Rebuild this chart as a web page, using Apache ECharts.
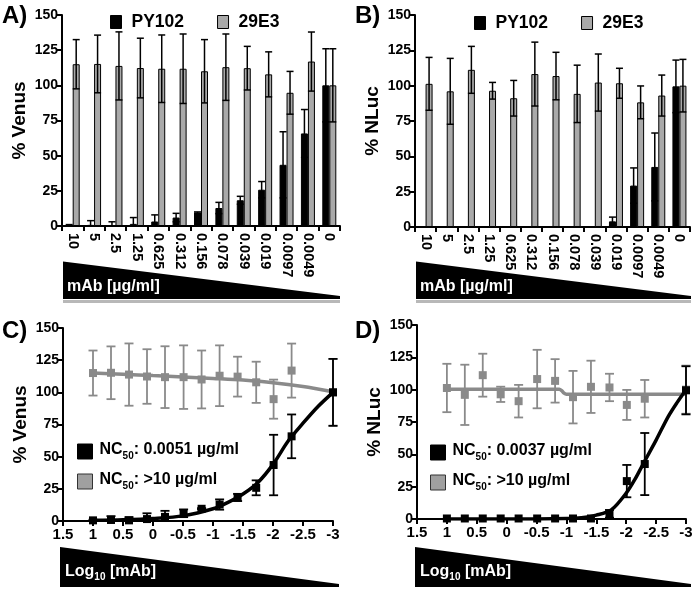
<!DOCTYPE html>
<html><head><meta charset="utf-8">
<script src="https://cdn.jsdelivr.net/npm/echarts@6/dist/echarts.min.js"></script>
<style>html,body{margin:0;padding:0;background:#fff}#c{width:696px;height:592px}</style>
</head><body><div id="c"></div>
<script>
// ---- data ----
const categories = ['10','5','2.5','1.25','0.625','0.312','0.156','0.078','0.039','0.019','0.0097','0.0049','0'];
const logConc = [1, 0.7, 0.4, 0.1, -0.2, -0.51, -0.81, -1.11, -1.41, -1.72, -2.01, -2.31, -3];

const venusPY102    = [0.5, 0.8, 0.5, 1.5, 3.2, 6, 9.5, 12.8, 18.3, 25.8, 43.5, 65.8, 100];
const venusPY102Err = [0.5, 3, 2.5, 4.5, 4.7, 3, 0.5, 4, 2.8, 5.8, 23.5, 17, 26];
const venus29E3     = [115, 115.2, 113.8, 112.3, 111.8, 111.8, 110, 112.9, 112.2, 107.8, 94.7, 116.9, 100];
const venus29E3Err  = [17.5, 20.5, 24.2, 21.2, 24, 24.7, 22.5, 23.6, 15.5, 16, 15.2, 21, 26];

const nlucPY102     = [0.4, 0.4, 0.4, 0.4, 0.4, 0.4, 0.4, 0.4, 0.4, 4, 29.3, 42.5, 99.5];
const nlucPY102Err  = [0, 0, 0, 0, 0, 0, 0, 0, 0, 3, 12.5, 24, 18.6];
const nluc29E3      = [101.3, 96, 111.2, 96.4, 91.1, 108.2, 106.8, 94.2, 102.2, 101.7, 88.2, 93, 100];
const nluc29E3Err   = [18.7, 23.3, 16.6, 5.9, 12.6, 22.6, 16.8, 20.3, 20.2, 10.6, 11.6, 14.5, 18.6];

// fitted curves
const venusFitPY102X = [1, 0.5, 0, -0.5, -1, -1.25, -1.5, -1.75, -2, -2.25, -2.5, -2.75, -3];
const venusFitPY102Y = [0.5, 1, 2, 4, 9.5, 14.5, 21, 30, 44, 62, 76, 89, 100];
const venusFit29E3X  = [1, 0.5, 0, -0.5, -1, -1.5, -2, -2.5, -3];
const venusFit29E3Y  = [115, 114, 113, 112, 110.8, 109.5, 107.5, 104.5, 100.5];
const nlucFitPY102X  = [1, 0, -0.5, -1, -1.25, -1.5, -1.75, -2, -2.15, -2.3, -2.5, -2.7, -2.85, -3];
const nlucFitPY102Y  = [0, 0, 0, 0.3, 1, 3, 7, 20, 31, 44, 61, 79, 90, 100];
const nlucFit29E3X   = [1, -0.88, -0.92, -0.96, -1.0, -3];
const nlucFit29E3Y   = [100.3, 100.3, 99.3, 97.3, 96.5, 96.5];

const yTicks = {min: 0, max: 150, interval: 25};
const xLogTicks = {min: -3, max: 1.5, interval: 0.5};

// ---- styling ----
const FONT = 'Liberation Sans, Arial, Helvetica, sans-serif';
const GRAY_BAR = '#a9a9a9';
const GRAY_PT = '#8a8a8a';

const chart = echarts.init(document.getElementById('c'));

function zip(xs, ys) { return xs.map((x, i) => [x, ys[i]]); }
function errData(xs, v, e) { return xs.map((x, i) => [x, v[i], e[i]]); }

function errRender(color, cap, lw, offset) {
  return function (params, api) {
    const x = api.value(0), y = api.value(1), e = api.value(2);
    if (!e) return null;
    const lo = Math.max(0, y - e), hi = y + e;
    const pHi = api.coord([x, hi]), pLo = api.coord([x, lo]);
    const cx = pHi[0] + offset;
    const st = {stroke: color, lineWidth: lw};
    const ch = [
      {type: 'line', shape: {x1: cx, y1: pLo[1], x2: cx, y2: pHi[1]}, style: st},
      {type: 'line', shape: {x1: cx - cap / 2, y1: pHi[1], x2: cx + cap / 2, y2: pHi[1]}, style: st}
    ];
    if (y - e > 0) ch.push({type: 'line', shape: {x1: cx - cap / 2, y1: pLo[1], x2: cx + cap / 2, y2: pLo[1]}, style: st});
    return {type: 'group', children: ch};
  };
}

const axisLine = {show: true, lineStyle: {color: '#000', width: 2}};
const axisTick = {show: true, length: 5, lineStyle: {color: '#000', width: 2}};
const lblStyle = {color: '#000', fontSize: 14, fontWeight: 'bold', fontFamily: FONT};

function yAx(idx, name) {
  return {
    type: 'value', gridIndex: idx, min: yTicks.min, max: yTicks.max, interval: yTicks.interval,
    name: name, nameLocation: 'middle', nameGap: 33, nameRotate: 90,
    nameTextStyle: {color: '#000', fontSize: 19, fontWeight: 'bold', fontFamily: FONT},
    axisLine: Object.assign({onZero: false}, axisLine), axisTick: axisTick,
    axisLabel: Object.assign({margin: 4}, lblStyle), splitLine: {show: false}
  };
}
function xCat(idx) {
  return {
    type: 'category', gridIndex: idx, data: categories,
    axisLine: axisLine, axisTick: axisTick,
    axisLabel: Object.assign({rotate: -90, margin: 7, interval: 0}, lblStyle, {fontSize: 14.5})
  };
}
function xLog(idx) {
  return {
    type: 'value', gridIndex: idx, inverse: true,
    min: xLogTicks.min, max: xLogTicks.max, interval: xLogTicks.interval,
    axisLine: Object.assign({onZero: false}, axisLine), axisTick: axisTick,
    axisLabel: Object.assign({margin: 6}, lblStyle, {fontSize: 15}), splitLine: {show: false}
  };
}

function barSeries(idx, py, pyErr, e3, e3Err) {
  const idxs = categories.map((c, i) => i);
  return [
    {name: 'PY102', type: 'bar', xAxisIndex: idx, yAxisIndex: idx, data: py, barWidth: 7, barGap: '0%',
     itemStyle: {color: '#000', borderColor: '#000', borderWidth: 1}},
    {name: '29E3', type: 'bar', xAxisIndex: idx, yAxisIndex: idx, data: e3, barWidth: 7, barGap: '0%',
     itemStyle: {color: GRAY_BAR, borderColor: '#000', borderWidth: 1}},
    {type: 'custom', xAxisIndex: idx, yAxisIndex: idx, z: 5, data: errData(idxs, py, pyErr),
     renderItem: errRender('#000', 7, 1.5, -3.5), encode: {x: 0, y: 1}},
    {type: 'custom', xAxisIndex: idx, yAxisIndex: idx, z: 5, data: errData(idxs, e3, e3Err),
     renderItem: errRender('#000', 7, 1.5, 3.5), encode: {x: 0, y: 1}}
  ];
}

function curveSeries(idx, nameBlack, nameGray, py, pyErr, e3, e3Err, fbX, fbY, fgX, fgY) {
  return [
    {type: 'line', xAxisIndex: idx, yAxisIndex: idx, data: zip(fgX, fgY), smooth: 0.3, showSymbol: false,
     lineStyle: {color: GRAY_PT, width: 3.5}, z: 2, silent: true},
    {type: 'custom', xAxisIndex: idx, yAxisIndex: idx, data: errData(logConc, e3, e3Err), z: 3,
     renderItem: errRender(GRAY_PT, 9, 1.8, 0), encode: {x: 0, y: 1}},
    {name: nameGray, type: 'scatter', xAxisIndex: idx, yAxisIndex: idx, data: zip(logConc, e3),
     symbol: 'rect', symbolSize: 8, itemStyle: {color: GRAY_PT, opacity: 1}, z: 4},
    {type: 'line', xAxisIndex: idx, yAxisIndex: idx, data: zip(fbX, fbY), smooth: 0.3, showSymbol: false,
     lineStyle: {color: '#000', width: 3.5}, z: 5, silent: true},
    {type: 'custom', xAxisIndex: idx, yAxisIndex: idx, data: errData(logConc, py, pyErr), z: 6,
     renderItem: errRender('#000', 9, 1.8, 0), encode: {x: 0, y: 1}},
    {name: nameBlack, type: 'scatter', xAxisIndex: idx, yAxisIndex: idx, data: zip(logConc, py),
     symbol: 'rect', symbolSize: 8, itemStyle: {color: '#000', opacity: 1}, z: 7}
  ];
}

const legendTop = {
  orient: 'horizontal', itemWidth: 11, itemHeight: 13, itemGap: 33, icon: 'rect',
  data: [
    {name: 'PY102', itemStyle: {color: '#000', borderColor: '#000', borderWidth: 1}},
    {name: '29E3', itemStyle: {color: GRAY_BAR, borderColor: '#000', borderWidth: 1}}
  ],
  textStyle: {color: '#000', fontSize: 17.5, fontWeight: 'bold', fontFamily: FONT, padding: [0, 0, 0, 5]}
};
const ncRich = {
  n: {fontSize: 16, fontWeight: 'bold', fontFamily: FONT, color: '#000', padding: [0, 0, 3, 0]},
  s: {fontSize: 10, fontWeight: 'bold', fontFamily: FONT, color: '#000', verticalAlign: 'bottom'}
};
function ncLegend(left, top, blackName, grayName) {
  return {
    orient: 'vertical', left: left, top: top, itemWidth: 15, itemHeight: 15, itemGap: 11, icon: 'rect',
    data: [
      {name: blackName, itemStyle: {color: '#000', opacity: 1, borderColor: '#000', borderWidth: 1}},
      {name: grayName, itemStyle: {color: '#a0a0a0', opacity: 1, borderColor: '#333', borderWidth: 1}}
    ],
    formatter: n => '{n|NC}{s|50}{n|' + n.slice(4) + '}',
    textStyle: {rich: ncRich, padding: [0, 0, 0, 2]}
  };
}

const txt = (x, y, text, size, color) => ({
  type: 'text', x: x, y: y, z: 20,
  style: {text: text, fill: color || '#000', font: 'bold ' + size + 'px ' + FONT, textVerticalAlign: 'middle'}
});
const richTxt = (x, y) => ({
  type: 'text', x: x, y: y, z: 20,
  style: {
    text: '{a|Log}{s|10}{a| [mAb]}', fill: '#fff', textVerticalAlign: 'middle',
    rich: {
      a: {fontSize: 16, fontWeight: 'bold', fontFamily: FONT, fill: '#fff', padding: [0, 0, 3, 0]},
      s: {fontSize: 10, fontWeight: 'bold', fontFamily: FONT, fill: '#fff', verticalAlign: 'bottom'}
    }
  }
});
const wedge = (x0, x1, yTop, yTip, yBot) => ({
  type: 'polygon', z: 1, shape: {points: [[x0, yTop], [x1, yTip], [x1, yBot], [x0, yBot]]},
  style: {fill: '#000'}
});
const shadow = (x0, x1, y) => ({type: 'rect', z: 1, shape: {x: x0, y: y, width: x1 - x0, height: 3}, style: {fill: '#b8b8b8'}});

chart.setOption({
  animation: false,
  backgroundColor: '#fff',
  grid: [
    {left: 62, top: 15, width: 278, height: 211},
    {left: 415, top: 15, width: 275, height: 212},
    {left: 63, top: 328, width: 270, height: 193},
    {left: 417, top: 325, width: 269, height: 194}
  ],
  xAxis: [xCat(0), xCat(1), xLog(2), xLog(3)],
  yAxis: [yAx(0, '% Venus'), yAx(1, '% NLuc'), yAx(2, '% Venus'), yAx(3, '% NLuc')],
  legend: [
    Object.assign({left: 105, top: 8}, legendTop),
    Object.assign({left: 469, top: 9}, legendTop),
    ncLegend(72, 437, 'NC50: 0.0051 µg/ml', 'NC50: >10 µg/ml'),
    ncLegend(425, 438, 'NC50: 0.0037 µg/ml', 'NC50: >10 µg/ml')
  ],
  series: [].concat(
    barSeries(0, venusPY102, venusPY102Err, venus29E3, venus29E3Err),
    barSeries(1, nlucPY102, nlucPY102Err, nluc29E3, nluc29E3Err),
    curveSeries(2, 'NC50: 0.0051 µg/ml', 'NC50: >10 µg/ml', venusPY102, venusPY102Err, venus29E3, venus29E3Err,
                venusFitPY102X, venusFitPY102Y, venusFit29E3X, venusFit29E3Y),
    curveSeries(3, 'NC50: 0.0037 µg/ml', 'NC50: >10 µg/ml', nlucPY102, nlucPY102Err, nluc29E3, nluc29E3Err,
                nlucFitPY102X, nlucFitPY102Y, nlucFit29E3X, nlucFit29E3Y)
  ),
  graphic: [
    wedge(63, 340, 261.5, 296, 299), shadow(63, 340, 300),
    wedge(416, 691, 261.5, 296, 299), shadow(416, 691, 300),
    wedge(60, 339, 547, 584, 587),
    wedge(415, 691, 547, 584, 587),
    txt(67, 287, 'mAb [µg/ml]', 16, '#fff'),
    txt(420, 287, 'mAb [µg/ml]', 16, '#fff'),
    richTxt(65, 573), richTxt(420, 573),
    txt(2, 16, 'A)', 24), txt(355, 16, 'B)', 24),
    txt(2, 331, 'C)', 24), txt(355, 331, 'D)', 24)
  ]
});
</script>
</body></html>
